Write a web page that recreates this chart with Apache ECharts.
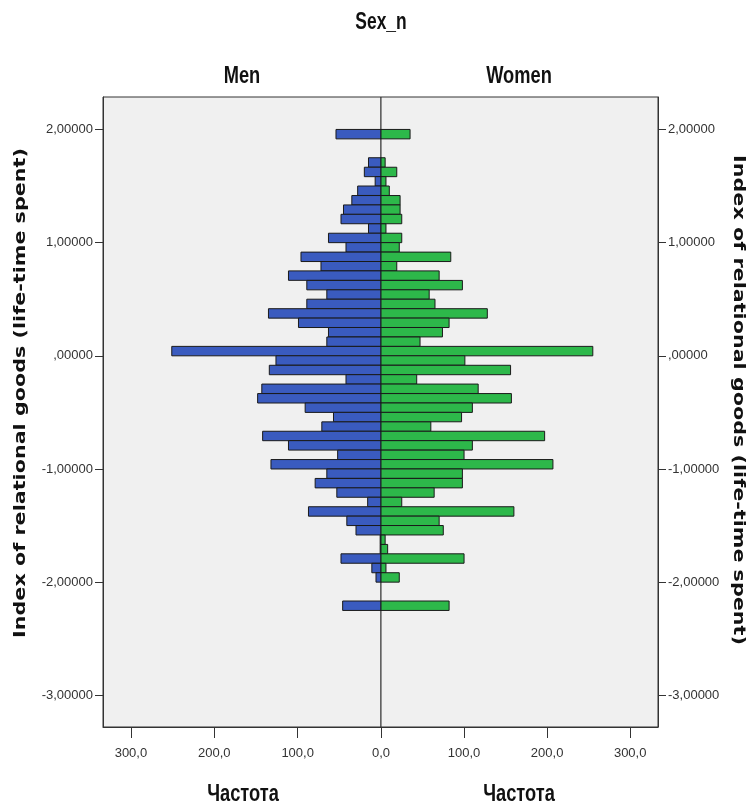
<!DOCTYPE html>
<html>
<head>
<meta charset="utf-8">
<script src="https://cdn.jsdelivr.net/npm/echarts@6/dist/echarts.min.js"></script>
<style>
  html, body { margin: 0; padding: 0; background: #fff; }
  #layout { width: 750px; height: 804px; }
</style>
</head>
<body>
<div id="layout"></div>
<script>
// lower edge of each histogram bin (index value)
const binLow = [1.917, 1.667, 1.583, 1.5, 1.417, 1.333, 1.25, 1.167, 1.083, 1.0,
    0.917, 0.833, 0.75, 0.667, 0.583, 0.5, 0.417, 0.333, 0.25, 0.167, 0.083, 0,
    -0.083, -0.167, -0.25, -0.333, -0.417, -0.5, -0.583, -0.667, -0.75, -0.833,
    -0.917, -1.0, -1.083, -1.167, -1.25, -1.333, -1.417, -1.5, -1.583, -1.667,
    -1.75, -1.833, -1.917, -2.0, -2.25];
const binWidth = 0.0833;

const menFreq = [54, 15, 20, 7, 28, 35, 45, 48, 15, 63,
    42, 96, 72, 111, 89, 65, 89, 135, 99, 63, 65, 251,
    126, 134, 42, 143, 148, 91, 57, 71, 142, 111,
    52, 132, 65, 79, 53, 16, 87, 41, 30, 1,
    1, 48, 11, 6, 46];
const womenFreq = [35, 5, 19, 6, 10, 23, 23, 25, 6, 25,
    22, 84, 19, 70, 98, 58, 65, 128, 82, 74, 47, 255,
    101, 156, 43, 117, 157, 110, 97, 60, 197, 110,
    100, 207, 98, 98, 64, 25, 160, 70, 75, 5,
    8, 100, 6, 22, 82];

const yTicks = [-3, -2, -1, 0, 1, 2];
const xTicksLeft = [0, 100, 200, 300];
const xTicksRight = [100, 200, 300];

const yTitle = 'Index of relational goods (life-time spent)';

function yFmt(v) {
    if (v === 0) return ',00000';
    return (v < 0 ? '-' : '') + Math.abs(v).toFixed(5).replace('.', ',');
}
function xFmt(v) {
    return v.toFixed(1).replace('.', ',');
}

function renderBar(params, api) {
    let a = api.coord([0, api.value(1)]);
    let b = api.coord([api.value(0), api.value(1) + binWidth]);
    return {
        type: 'rect',
        shape: {
            x: Math.min(a[0], b[0]),
            y: Math.min(a[1], b[1]),
            width: Math.abs(b[0] - a[0]),
            height: Math.abs(b[1] - a[1])
        },
        style: api.style({ stroke: '#1a1a1a', lineWidth: 1 })
    };
}

// narrow bold heading (Arial Narrow look)
function heading(text, x, y, size) {
    return {
        type: 'text', x: x, y: y, scaleX: 0.83, scaleY: 1.1,
        style: { text: text, font: 'bold ' + size + 'px "Liberation Sans", Arial, sans-serif',
                 fill: '#111', textAlign: 'center', textVerticalAlign: 'middle' }
    };
}

let myChart = echarts.init(document.getElementById('layout'));

let axisLabelBase = { color: '#333', fontFamily: '"Liberation Sans", Arial, sans-serif', fontSize: 13 };
let lineBase = { show: true, onZero: false, lineStyle: { color: '#333' } };

let option = {
    backgroundColor: '#fff',
    animation: false,
    graphic: [
        heading('Sex_n', 381, 23, 21),
        heading('Men', 242, 76, 22),
        heading('Women', 519, 76, 22),
        heading('Частота', 243, 794, 22),
        heading('Частота', 519, 794, 22),
        { type: 'text', x: 21, y: 393, rotation: Math.PI / 2, scaleX: 1.38,
          style: { text: yTitle, font: 'bold 15px "DejaVu Sans", sans-serif', fill: '#111', textAlign: 'center', textVerticalAlign: 'middle' } },
        { type: 'text', x: 738, y: 400, rotation: -Math.PI / 2, scaleX: 1.38,
          style: { text: yTitle, font: 'bold 15px "DejaVu Sans", sans-serif', fill: '#111', textAlign: 'center', textVerticalAlign: 'middle' } }
    ],
    grid: [
        { left: 103, width: 278, top: 97, height: 630, show: true, backgroundColor: '#f0f0f0', borderColor: '#333', borderWidth: 1 },
        { left: 381, width: 277, top: 97, height: 630, show: true, backgroundColor: '#f0f0f0', borderColor: '#333', borderWidth: 1 }
    ],
    xAxis: [
        {
            type: 'value', gridIndex: 0, min: 0, max: 333.5, inverse: true, position: 'bottom',
            axisLine: lineBase,
            axisTick: { show: true, length: 11, customValues: xTicksLeft, lineStyle: { color: '#333' } },
            axisLabel: Object.assign({ customValues: xTicksLeft, formatter: xFmt, margin: 20 }, axisLabelBase),
            splitLine: { show: false }
        },
        {
            type: 'value', gridIndex: 1, min: 0, max: 333.5, position: 'bottom',
            axisLine: lineBase,
            axisTick: { show: true, length: 11, customValues: xTicksRight, lineStyle: { color: '#333' } },
            axisLabel: Object.assign({ customValues: xTicksRight, formatter: xFmt, margin: 20 }, axisLabelBase),
            splitLine: { show: false }
        }
    ],
    yAxis: [
        {
            type: 'value', gridIndex: 0, min: -3.28, max: 2.287, position: 'left',
            axisLine: lineBase,
            axisTick: { show: true, length: 8, customValues: yTicks, lineStyle: { color: '#333' } },
            axisLabel: Object.assign({ customValues: yTicks, formatter: yFmt, margin: 10 }, axisLabelBase),
            splitLine: { show: false }
        },
        {
            type: 'value', gridIndex: 1, min: -3.28, max: 2.287, position: 'right',
            axisLine: lineBase,
            axisTick: { show: true, length: 8, customValues: yTicks, lineStyle: { color: '#333' } },
            axisLabel: Object.assign({ customValues: yTicks, formatter: yFmt, margin: 10 }, axisLabelBase),
            splitLine: { show: false }
        }
    ],
    series: [
        {
            name: 'Men', type: 'custom', xAxisIndex: 0, yAxisIndex: 0,
            renderItem: renderBar, encode: { x: 0, y: 1 },
            itemStyle: { color: '#3a5bbf' },
            data: menFreq.map((v, i) => [v, binLow[i]])
        },
        {
            name: 'Women', type: 'custom', xAxisIndex: 1, yAxisIndex: 1,
            renderItem: renderBar, encode: { x: 0, y: 1 },
            itemStyle: { color: '#2db84a' },
            data: womenFreq.map((v, i) => [v, binLow[i]])
        }
    ]
};
myChart.setOption(option);
</script>
</body>
</html>
